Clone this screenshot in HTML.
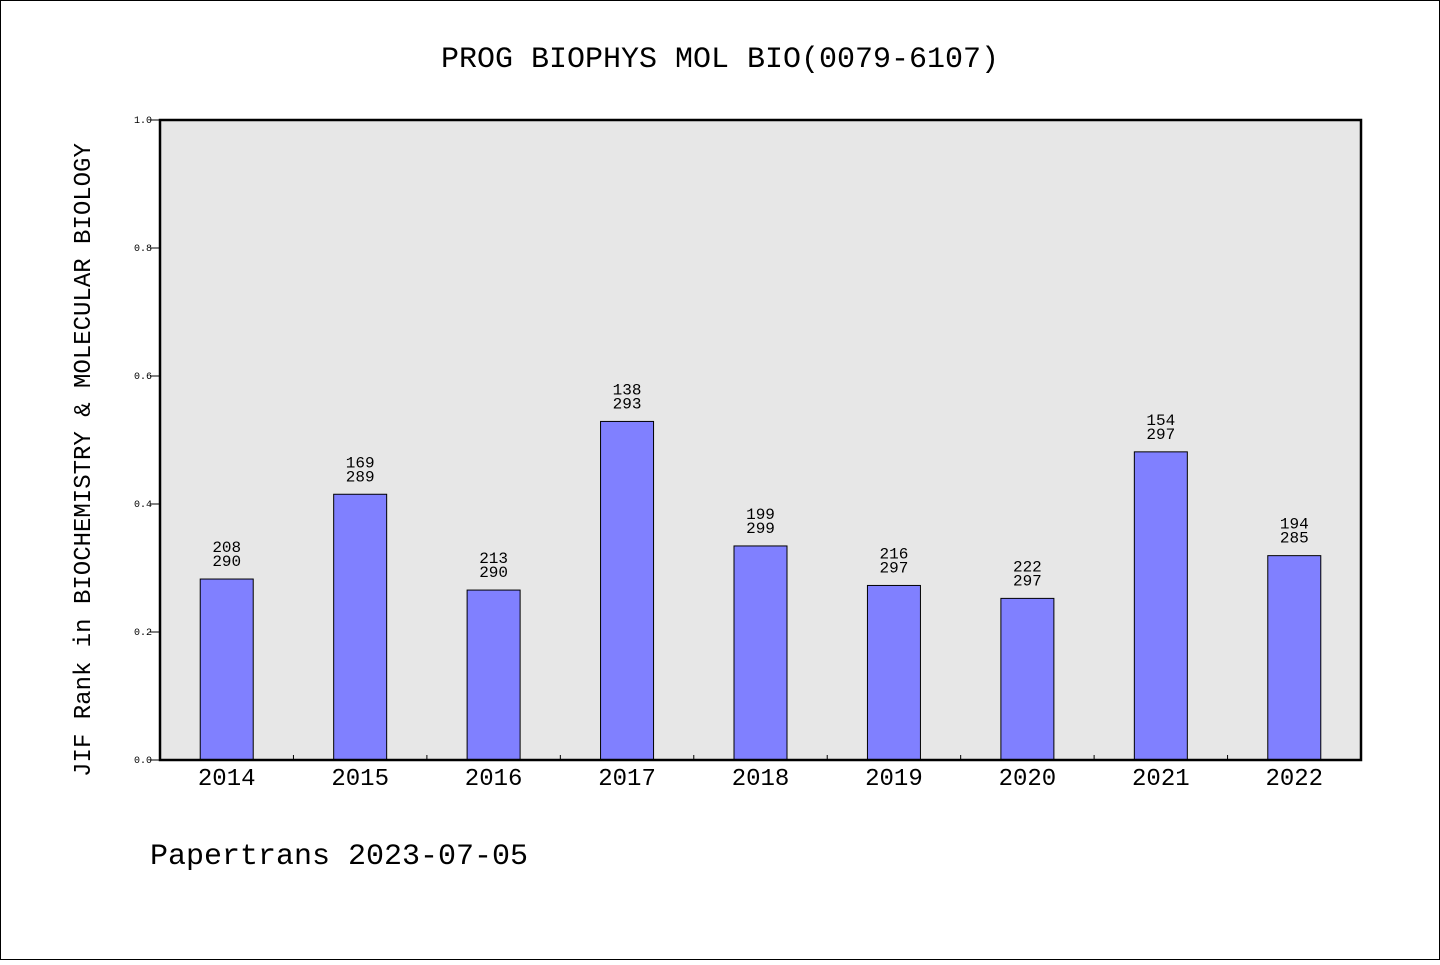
<!DOCTYPE html>
<html><head><meta charset="utf-8">
<style>
html,body{margin:0;padding:0;background:#fff;}
svg text{font-family:"WenQuanYi Zen Hei","Liberation Mono",monospace;fill:#000;}
</style></head>
<body>
<svg id="chart" width="1440" height="960" xmlns="http://www.w3.org/2000/svg">
<rect x="0.5" y="0.5" width="1439" height="959" fill="#fff" stroke="#000" stroke-width="1"/>
<text x="720" y="67" font-size="30" text-anchor="middle">PROG BIOPHYS MOL BIO(0079-6107)</text>
<rect x="160" y="120" width="1201" height="640" fill="#e7e7e7"/>
<g id="bars"></g>
<g id="axes"></g>
<rect x="160" y="120" width="1201" height="640" fill="none" stroke="#000" stroke-width="2.5"/>
<text transform="translate(90,460) rotate(-90)" font-size="24" text-anchor="middle">JIF Rank in BIOCHEMISTRY &amp; MOLECULAR BIOLOGY</text>
<text x="150" y="864" font-size="30">Papertrans 2023-07-05</text>
</svg>
<script>
const years = ["2014","2015","2016","2017","2018","2019","2020","2021","2022"];
const ranks = [208,169,213,138,199,216,222,154,194];
const totals = [290,289,290,293,299,297,297,297,285];
const yTicks = ["0.0","0.2","0.4","0.6","0.8","1.0"];

const NS = "http://www.w3.org/2000/svg";
const X0 = 160, W = 1201, Y0 = 760, H = 640;
const band = W / years.length;
const xC = i => X0 + band * (i + 0.5);
const yS = v => Y0 - v * H;
function mk(tag, attrs, parent){const e=document.createElementNS(NS,tag);for(const k in attrs)e.setAttribute(k,attrs[k]);parent.appendChild(e);return e;}
const gb = document.getElementById("bars");
const ga = document.getElementById("axes");
const bw = 53;
years.forEach((yr,i)=>{
  const v = 1 - ranks[i]/totals[i];
  const r = mk("rect",{x:xC(i)-bw/2,y:yS(v),width:bw,height:Y0-yS(v),fill:"#8080ff",stroke:"#000","stroke-width":1},gb);
  
  
  const t1 = mk("text",{x:xC(i),y:yS(v)-27,"font-size":16,"text-anchor":"middle"},gb);
  t1.textContent = ranks[i];
  
  
  const t2 = mk("text",{x:xC(i),y:yS(v)-13,"font-size":16,"text-anchor":"middle"},gb);
  t2.textContent = totals[i];
  
  
  const xl = mk("text",{x:xC(i),y:785,"font-size":24,"text-anchor":"middle"},ga);
  xl.textContent = yr;
  
  
  if(i>0){
    const tk = mk("line",{x1:X0+band*i,x2:X0+band*i,y1:Y0-5,y2:Y0,stroke:"#000","stroke-width":1},ga);
    
    
  }
});
yTicks.forEach(t=>{
  const v = parseFloat(t);
  const ln = mk("line",{x1:X0-10,x2:X0,y1:yS(v),y2:yS(v),stroke:"#000","stroke-width":1},ga);
  
  
  const tl = mk("text",{x:X0-8,y:yS(v)+3,"font-size":10,"text-anchor":"end"},ga);
  tl.textContent = t;
  
  
});
</script>
</body></html>
